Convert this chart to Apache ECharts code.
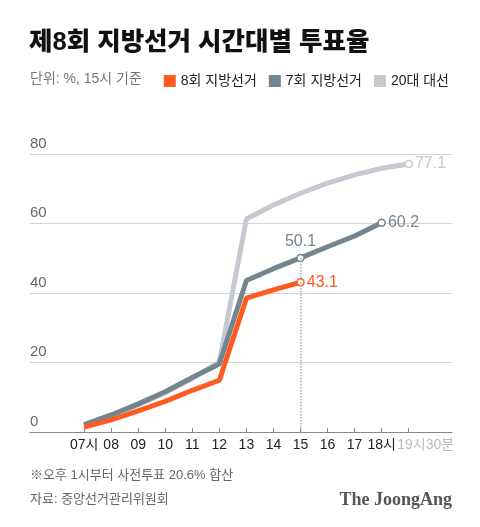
<!DOCTYPE html>
<html>
<head>
<meta charset="utf-8">
<script src="https://cdn.jsdelivr.net/npm/echarts@6/dist/echarts.min.js"></script>
<style>
  html, body { margin: 0; padding: 0; background: #fff; }
  #chart { width: 480px; height: 527px; }
</style>
</head>
<body>
<div id="chart"></div>
<script>
  // 시간대 (x축)
  const hours = ['07시', '08', '09', '10', '11', '12', '13', '14', '15', '16', '17', '18시', '19시30분']
  // 누적 투표율 (%)
  const local8 = [1.4, 3.5, 6.1, 8.8, 12.0, 14.9, 38.5, 40.9, 43.1]
  const local7 = [2.1, 4.9, 8.1, 11.6, 15.7, 19.6, 43.6, 47.0, 50.1, 53.3, 56.4, 60.2]
  const pres20 = [1.9, 4.6, 7.8, 11.3, 15.4, 20.2, 61.3, 65.3, 68.7, 71.6, 74.0, 75.9, 77.1]
  const seriesNames = ['8회 지방선거', '7회 지방선거', '20대 대선']

  const kr = "'Liberation Sans', 'Noto Sans CJK KR', sans-serif"
  const colors = ['#ff5a1f', '#73858f', '#c4cacf']

  // labelled points: index -> label position
  function toData (vals, color, marks) {
    return vals.map(function (v, i) {
      const item = { value: [i, v] }
      if (marks[i]) {
        item.symbol = 'circle'
        item.symbolSize = 7
        item.itemStyle = { color: '#fff', borderColor: color, borderWidth: 1.5 }
        item.label = {
          show: true,
          position: marks[i],
          distance: marks[i] === 'top' ? 4 : 2,
          color: color,
          fontSize: 16,
          fontFamily: kr,
          formatter: function (p) { return p.value[1].toFixed(1) }
        }
      }
      return item
    })
  }

  const chart = echarts.init(document.getElementById('chart'))
  chart.setOption({
    animation: false,
    title: [{
      text: '제8회 지방선거 시간대별 투표율',
      left: 29, top: 30, padding: 0,
      textStyle: { fontSize: 25.5, fontWeight: 900, color: '#111', fontFamily: kr }
    }, {
      text: '단위: %, 15시 기준',
      left: 30, top: 72, padding: 0,
      textStyle: { fontSize: 14, fontWeight: 'normal', color: '#777', fontFamily: kr }
    }, {
      text: '※오후 1시부터 사전투표 20.6% 합산',
      left: 30, top: 469, padding: 0,
      textStyle: { fontSize: 13, fontWeight: 'normal', color: '#666', fontFamily: kr }
    }, {
      text: '자료: 중앙선거관리위원회',
      left: 30, top: 493, padding: 0,
      textStyle: { fontSize: 13, fontWeight: 'normal', color: '#666', fontFamily: kr }
    }, {
      text: 'The JoongAng',
      right: 28, top: 491, padding: 0,
      textStyle: { fontSize: 18, fontWeight: 'bold', color: '#555', fontFamily: "'Liberation Serif', serif" }
    }],
    legend: {
      right: 31, top: 74, padding: 0,
      icon: 'rect', itemWidth: 12, itemHeight: 12, itemGap: 12,
      data: seriesNames,
      textStyle: { fontSize: 14, color: '#222', fontFamily: kr }
    },
    grid: { left: 30, right: 28, top: 154, bottom: 95 },
    xAxis: {
      type: 'value', min: -2, max: 13.6,
      splitLine: { show: false },
      axisLine: { lineStyle: { color: '#888' } },
      axisTick: {
        inside: true, length: 4,
        customValues: hours.map(function (h, i) { return i }),
        lineStyle: { color: '#888' }
      },
      axisLabel: {
        customValues: hours.map(function (h, i) { return i }),
        margin: 6, color: '#222', fontSize: 14, fontFamily: kr,
        formatter: function (v) {
          return v === hours.length - 1 ? '{g|' + hours[v] + '}' : hours[v]
        },
        rich: { g: { color: '#bbb', fontSize: 14, fontFamily: kr, padding: [0, 0, 0, 34] } }
      }
    },
    yAxis: {
      type: 'value', min: 0, max: 80, interval: 20,
      axisLine: { show: false },
      axisTick: { show: false },
      splitLine: { lineStyle: { color: '#d4d4d4' } },
      axisLabel: {
        inside: true, margin: 0, verticalAlign: 'bottom', padding: [0, 0, 3, 0],
        color: '#666', fontSize: 15, fontFamily: kr
      }
    },
    series: [{
      name: seriesNames[2], type: 'line', symbol: 'none',
      color: colors[2],
      lineStyle: { width: 5, color: colors[2] },
      data: toData(pres20, colors[2], { 12: 'right' })
    }, {
      name: seriesNames[1], type: 'line', symbol: 'none',
      color: colors[1],
      lineStyle: { width: 5, color: colors[1] },
      data: toData(local7, colors[1], { 8: 'top', 11: 'right' }),
      markLine: {
        silent: true, symbol: 'none', label: { show: false },
        lineStyle: { type: 'dotted', color: '#aaa', width: 1.5 },
        data: [[{ coord: [8, local7[8]] }, { coord: [8, 0] }]]
      }
    }, {
      name: seriesNames[0], type: 'line', symbol: 'none',
      color: colors[0],
      lineStyle: { width: 5, color: colors[0] },
      data: toData(local8, colors[0], { 8: 'right' })
    }]
  })
</script>
</body>
</html>
